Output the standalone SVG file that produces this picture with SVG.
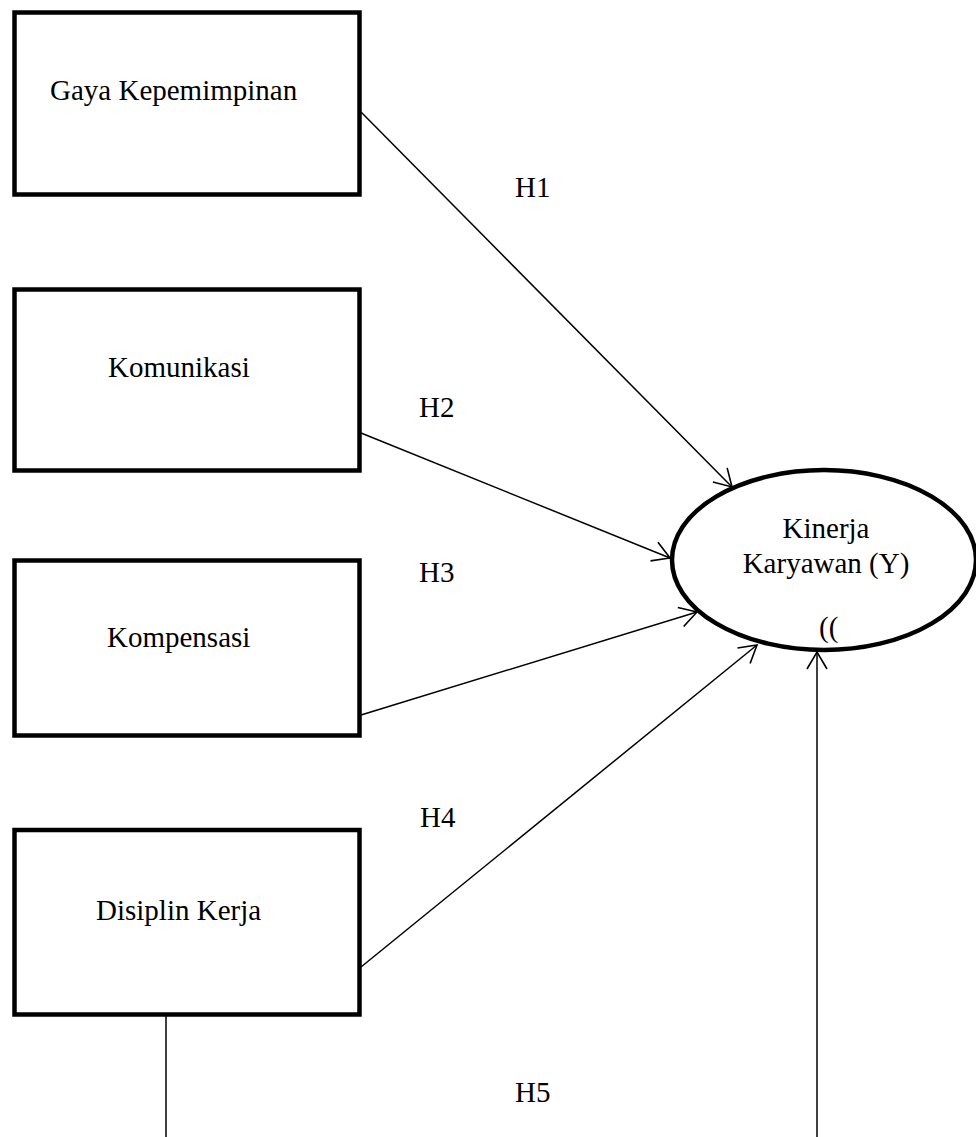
<svg xmlns="http://www.w3.org/2000/svg" width="976" height="1137" viewBox="0 0 976 1137">
<style>
.box{fill:#fff;stroke:#000;stroke-width:4.5}
.ell{fill:#fff;stroke:#000;stroke-width:4.5}
.t{font-family:"Liberation Serif","Times New Roman",serif;font-size:29px;fill:#000}
.c{stroke:#000;stroke-width:1.5;fill:none}
</style>
<defs>
<marker id="arr" markerUnits="userSpaceOnUse" markerWidth="24" markerHeight="24" viewBox="-20 -12 22 24" refX="0" refY="0" orient="auto" overflow="visible">
<path d="M-17,-10 L0,0 L-17,10" fill="none" stroke="#000" stroke-width="1.6"/>
</marker>
</defs>
<rect width="976" height="1137" fill="#fff"/>
<g id="connectors">
<line class="c" x1="361" y1="112" x2="732" y2="487" marker-end="url(#arr)"/>
<line class="c" x1="361" y1="433" x2="670" y2="558" marker-end="url(#arr)"/>
<line class="c" x1="361" y1="715" x2="697" y2="612" marker-end="url(#arr)"/>
<line class="c" x1="361" y1="967" x2="757" y2="645" marker-end="url(#arr)"/>
<line class="c" x1="166" y1="1016" x2="166" y2="1137"/>
<line class="c" x1="817" y1="1137" x2="817" y2="652" marker-end="url(#arr)"/>
</g>
<g id="node-gaya">
<rect class="box" x="14.5" y="12.5" width="345" height="182"/>
<text class="t" x="50" y="100">Gaya Kepemimpinan</text>
</g>
<g id="node-komunikasi">
<rect class="box" x="14.5" y="289.5" width="345" height="181"/>
<text class="t" x="108" y="377">Komunikasi</text>
</g>
<g id="node-kompensasi">
<rect class="box" x="14.5" y="560.5" width="345" height="175"/>
<text class="t" x="107" y="647">Kompensasi</text>
</g>
<g id="node-disiplin">
<rect class="box" x="14.5" y="830" width="345" height="184.5"/>
<text class="t" x="96" y="920">Disiplin Kerja</text>
</g>
<g id="node-kinerja">
<ellipse class="ell" cx="824" cy="560" rx="152" ry="90"/>
<text class="t" x="826" y="538" text-anchor="middle">Kinerja</text>
<text class="t" x="826" y="573" text-anchor="middle">Karyawan (Y)</text>
<text class="t" x="819" y="637">((</text>
</g>
<g id="labels">
<text class="t" x="515" y="197">H1</text>
<text class="t" x="419" y="417">H2</text>
<text class="t" x="419" y="582">H3</text>
<text class="t" x="420" y="827">H4</text>
<text class="t" x="515" y="1102">H5</text>
</g>
</svg>
